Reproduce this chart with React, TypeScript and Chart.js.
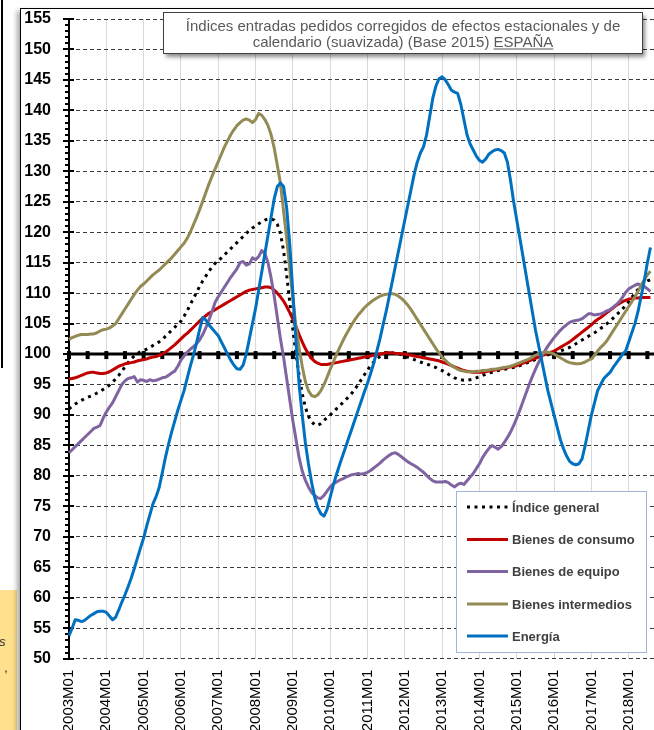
import React, { useEffect, useRef } from "react";
import { Chart, registerables } from "chart.js";

Chart.register(...registerables);

const FONT = "'Liberation Sans', Arial, Helvetica, sans-serif";

const YEARS = [2003, 2004, 2005, 2006, 2007, 2008, 2009, 2010, 2011, 2012, 2013, 2014, 2015, 2016, 2017, 2018];
const MONTHS = ["01", "02", "03", "04", "05", "06", "07", "08", "09", "10", "11", "12"];
const categories: string[] = YEARS.flatMap((y) => MONTHS.map((m) => `${y}M${m}`));

const TITLE_LINE1 = "Índices entradas pedidos corregidos de efectos estacionales y de";
const TITLE_LINE2A = "calendario (suavizada) (Base 2015) ";
const TITLE_LINE2B = "ESPAÑA";

const seriesNames = ["Índice general", "Bienes de consumo", "Bienes de equipo", "Bienes intermedios", "Energía"];
const seriesColors = ["#000000", "#C00000", "#8064A2", "#948A54", "#0070C0"];

const indiceGeneral = [
  91, 91.4, 91.8, 92.1, 92.4, 92.7, 92.9, 93.1, 93.3, 93.6, 93.9, 94.2,
  94.5, 94.9, 95.4, 95.9, 96.5, 97.2, 97.9, 98.6, 99.2, 99.7, 100.1, 100.4,
  100.6, 100.8, 101.1, 101.4, 101.7, 102, 102.4, 102.9, 103.4, 103.9, 104.4, 104.9,
  105.4, 106.2, 107.1, 108.1, 109.1, 110.1, 111.1, 112, 112.8, 113.6, 114.3, 114.9,
  115.3, 115.8, 116.3, 116.8, 117.3, 117.8, 118.3, 118.8, 119.3, 119.8, 120.3, 120.7,
  121, 121.4, 121.7, 122, 122.2, 122.2, 122, 121.3, 119.8, 117, 113, 108.5,
  104, 100, 96.5, 93.5, 91.3, 89.8, 88.9, 88.4, 88.3, 88.6, 89.1, 89.6,
  90, 90.5, 91, 91.5, 92, 92.5, 93, 93.6, 94.3, 95, 95.8, 96.6,
  97.4, 98.1, 98.7, 99.2, 99.6, 99.9, 100.1, 100.2, 100.2, 100.1, 100, 99.9,
  99.7, 99.5, 99.3, 99.1, 98.9, 98.7, 98.5, 98.4, 98.2, 98, 97.8, 97.5,
  97.3, 97, 96.7, 96.4, 96.1, 95.9, 95.8, 95.7, 95.7, 95.8, 95.9, 96.1,
  96.3, 96.5, 96.7, 96.9, 97, 97.2, 97.3, 97.4, 97.5, 97.6, 97.7, 97.8,
  97.9, 98.1, 98.3, 98.5, 98.7, 98.9, 99.1, 99.3, 99.5, 99.7, 99.9, 100,
  100.1, 100.3, 100.5, 100.7, 100.9, 101.1, 101.4, 101.7, 102, 102.3, 102.6, 102.9,
  103.2, 103.5, 103.8, 104.2, 104.6, 105, 105.4, 105.9, 106.4, 106.9, 107.4, 108,
  108.6, 109.3, 110, 110.6, 111.2, 111.6, 112, 112.2,
];

const bienesConsumo = [
  95.9, 96, 96.1, 96.3, 96.5, 96.7, 96.9, 97, 97, 96.9, 96.8, 96.8,
  96.9, 97.1, 97.4, 97.7, 98, 98.2, 98.4, 98.5, 98.6, 98.7, 98.9, 99,
  99.1, 99.2, 99.4, 99.5, 99.6, 99.8, 100, 100.3, 100.7, 101.1, 101.5, 102,
  102.5, 103, 103.4, 103.9, 104.4, 104.9, 105.4, 105.9, 106.3, 106.7, 107, 107.3,
  107.6, 107.9, 108.2, 108.5, 108.8, 109.1, 109.4, 109.7, 110, 110.3, 110.5, 110.6,
  110.7, 110.8, 110.9, 111, 111, 110.9, 110.5, 110, 109.4, 108.7, 107.8, 106.8,
  105.7, 104.5, 103.2, 102, 100.9, 100, 99.3, 98.8, 98.5, 98.3, 98.3, 98.3,
  98.4, 98.5, 98.6, 98.7, 98.8, 98.9, 99, 99.1, 99.2, 99.3, 99.4, 99.5,
  99.6, 99.7, 99.8, 99.9, 100, 100.1, 100.2, 100.2, 100.2, 100.1, 100.1, 100,
  100, 99.9, 99.8, 99.7, 99.6, 99.5, 99.4, 99.3, 99.2, 99.1, 99, 98.9,
  98.7, 98.5, 98.3, 98.1, 97.9, 97.7, 97.5, 97.3, 97.2, 97.1, 97, 97,
  97, 97, 97.1, 97.2, 97.3, 97.4, 97.5, 97.6, 97.7, 97.8, 97.9, 98,
  98.1, 98.3, 98.5, 98.7, 98.9, 99.1, 99.3, 99.5, 99.7, 99.9, 100.1, 100.3,
  100.5, 100.8, 101.1, 101.4, 101.7, 102, 102.4, 102.8, 103.2, 103.6, 104, 104.4,
  104.8, 105.3, 105.7, 106, 106.4, 106.8, 107.2, 107.6, 108, 108.3, 108.6, 108.8,
  109, 109.1, 109.2, 109.2, 109.3, 109.3, 109.3, 109.3,
];

const bienesEquipo = [
  83.8, 84.3, 84.8, 85.3, 85.8, 86.3, 86.8, 87.3, 87.8, 88, 88.3, 89.5,
  90.5, 91.3, 92, 93, 94, 95, 95.6, 96, 96.1, 96.3, 95.4, 95.8,
  95.7, 95.5, 95.8, 95.6, 95.7, 95.9, 96.1, 96.2, 96.5, 96.9, 97.2, 98,
  99, 99.7, 100.3, 100.8, 101.2, 101.7, 102.3, 103.2, 104.3, 105.6, 107, 108.5,
  109.4, 110.2, 111, 111.8, 112.6, 113.3, 114, 115, 115.2, 114.6, 114.8, 115.8,
  115.5, 116, 117, 116.5, 115, 112.5, 109.5, 106, 102.5, 99.5, 96, 92.5,
  89, 86, 83, 80.8, 79.3, 78.2, 77.3, 76.8, 76.4, 76.3, 76.8, 77.5,
  78.2, 78.7, 79, 79.3, 79.5, 79.8, 80, 80.2, 80.3, 80.4, 80.3, 80.4,
  80.6, 80.9, 81.3, 81.7, 82.1, 82.6, 83, 83.4, 83.7, 83.8, 83.5, 83.1,
  82.7, 82.3, 82, 81.7, 81.4, 81, 80.6, 80.1, 79.6, 79.2, 79, 79,
  79, 79.1, 78.9, 78.5, 78.2, 78.6, 78.8, 78.6, 79.2, 79.8, 80.4, 81.2,
  82, 83, 83.8, 84.5, 85, 84.7, 84.4, 84.8, 85.5, 86.3, 87.2, 88.3,
  89.5, 90.8, 92.2, 93.6, 95, 96.3, 97.5, 98.6, 99.6, 100.5, 101.3, 102,
  102.7, 103.3, 103.9, 104.4, 104.8, 105.2, 105.4, 105.5, 105.6, 105.8, 106.2, 106.6,
  106.6, 106.4, 106.5, 106.6, 106.8, 107.1, 107.3, 107.7, 108.1, 108.6, 109.3, 110.1,
  110.7, 111, 111.3, 111.5, 111.3, 111.1, 110.7, 110.3,
];

const bienesIntermedios = [
  102.4, 102.7, 102.9, 103.1, 103.2, 103.2, 103.2, 103.3, 103.3, 103.5, 103.8, 104,
  104.1, 104.3, 104.6, 105, 105.8, 106.6, 107.4, 108.2, 109, 109.8, 110.5, 111.1,
  111.5, 112, 112.5, 113, 113.4, 113.8, 114.3, 114.8, 115.3, 115.8, 116.4, 117,
  117.6, 118.2, 119, 120, 121.2, 122.4, 123.7, 125.1, 126.5, 127.9, 129.2, 130.4,
  131.6, 132.8, 134, 135, 136, 136.8, 137.5, 138, 138.4, 138.6, 138.4, 138,
  138.5, 139.5, 139.2, 138.5, 137.5, 136, 133.8, 131, 128, 123.5, 119, 114,
  109, 104.5, 101, 98, 95.5, 94, 93.2, 93, 93.3, 94, 95, 96.2,
  97.5, 98.7, 99.9, 101, 102.1, 103.1, 104, 104.9, 105.7, 106.4, 107, 107.6,
  108.1, 108.5, 108.9, 109.2, 109.5, 109.7, 109.8, 109.9, 109.9, 109.8, 109.5, 109.1,
  108.6, 108, 107.3, 106.5, 105.7, 104.9, 104.1, 103.3, 102.5, 101.7, 100.9, 100.2,
  99.5, 99, 98.5, 98.1, 97.8, 97.5, 97.3, 97.2, 97.1, 97.1, 97.1, 97.2,
  97.2, 97.3, 97.3, 97.4, 97.5, 97.5, 97.6, 97.7, 97.8, 97.9, 98, 98.2,
  98.4, 98.6, 98.8, 99, 99.2, 99.5, 99.8, 100, 100.2, 100.3, 100.3, 100.2,
  100, 99.7, 99.4, 99.1, 98.8, 98.6, 98.5, 98.4, 98.4, 98.5, 98.7, 99,
  99.2, 99.8, 100.5, 101.1, 101.6, 102.2, 103, 103.8, 104.6, 105.4, 106.2, 107,
  107.8, 108.6, 109.4, 110.3, 111.3, 112.2, 113, 113.6,
];

const energia = [
  53.8, 55, 56.4, 56.3, 56.1, 56.3, 56.7, 57.1, 57.4, 57.7, 57.8, 57.8,
  57.6, 57, 56.4, 56.8, 58, 59.3, 60.5, 61.8, 63.2, 64.8, 66.5, 68.2,
  69.8, 71.8, 73.6, 75.4, 76.6, 78.1, 80.5, 83, 85.2, 87.2, 89, 90.8,
  92.4, 94, 96, 98, 99.8, 101.8, 104, 106, 105.6, 104.8, 104.2, 103.6,
  103, 102, 101, 100, 99, 98.2, 97.6, 97.5, 98.2, 100, 102.5, 105,
  107.5, 110.5, 113.5, 116.5, 119.5, 122.5, 125.5, 127.5, 128.1, 127.5, 124, 118,
  110, 102, 95, 90, 85.5, 82, 79, 76.5, 74.8, 73.8, 73.4, 74.5,
  76.5, 78.5, 80.2, 81.8, 83.3, 84.8, 86.3, 87.8, 89.3, 90.8, 92.3, 93.8,
  95.2, 96.8, 98.5, 100.5, 102.5, 104.8, 107, 109.5, 112, 114.5, 117, 119.5,
  122, 124.5, 127, 129.5, 131.5, 133, 134, 136, 139, 142, 144, 145.2,
  145.5, 145, 144.2, 143.3, 143, 142.8, 141, 138.5, 136, 134.5, 133.5, 132.5,
  131.8, 131.5, 132, 132.8, 133.2, 133.5, 133.6, 133.4, 133, 131.5, 128.5, 125,
  122, 119, 116, 113, 110, 107, 104, 101.5, 99, 96.5, 94, 92,
  90, 88, 86, 84.5, 83.3, 82.4, 82, 81.8, 82, 82.8, 85, 87.5,
  90, 92, 94, 95, 96, 96.5, 97, 97.8, 98.5, 99.2, 100, 100.5,
  102, 103.5, 105, 107, 109.5, 112, 115, 117.5,
];

const seriesData = [indiceGeneral, bienesConsumo, bienesEquipo, bienesIntermedios, energia];

const decorPlugin = {
  id: "decor",
  beforeDatasetsDraw(chart: any) {
    const { ctx, chartArea, scales } = chart;
    const ys = scales.y;
    const xs = scales.x;
    const left = chartArea.left;
    ctx.save();
    ctx.strokeStyle = "#000";
    ctx.lineWidth = 2;
    ctx.beginPath();
    ctx.moveTo(left, chartArea.top);
    ctx.lineTo(left, chartArea.bottom);
    ctx.stroke();
    for (let v = ys.min; v <= ys.max; v++) {
      const py = Math.round(ys.getPixelForValue(v));
      ctx.beginPath();
      if (v % 5 === 0) {
        ctx.moveTo(left - 6, py);
        ctx.lineTo(left + 5, py);
      } else {
        ctx.moveTo(left - 4, py);
        ctx.lineTo(left, py);
      }
      ctx.stroke();
    }
    const p100 = ys.getPixelForValue(100);
    ctx.lineWidth = 3;
    ctx.beginPath();
    ctx.moveTo(left, p100);
    ctx.lineTo(chartArea.right, p100);
    ctx.stroke();
    ctx.fillStyle = "#000";
    for (let i = 0; i < categories.length; i += 6) {
      const px = xs.getPixelForValue(i);
      ctx.fillRect(px - 2, p100 - 3, 4, 8);
    }
    ctx.restore();
  },
  afterDraw(chart: any) {
    const { ctx } = chart;
    ctx.save();
    ctx.shadowColor = "rgba(0,0,0,0.45)";
    ctx.shadowBlur = 4;
    ctx.shadowOffsetX = 2;
    ctx.shadowOffsetY = 3;
    ctx.fillStyle = "#fff";
    ctx.fillRect(163.5, 12.5, 479, 41);
    ctx.restore();
    ctx.save();
    ctx.strokeStyle = "#404040";
    ctx.lineWidth = 1;
    ctx.strokeRect(163.5, 12.5, 479, 41);
    ctx.fillStyle = "#595959";
    ctx.font = `15px ${FONT}`;
    ctx.textBaseline = "alphabetic";
    ctx.textAlign = "center";
    const cx = 403;
    ctx.fillText(TITLE_LINE1, cx, 31);
    const w1 = ctx.measureText(TITLE_LINE2A).width;
    const w2 = ctx.measureText(TITLE_LINE2B).width;
    const sx = cx - (w1 + w2) / 2;
    ctx.textAlign = "left";
    ctx.fillText(TITLE_LINE2A, sx, 47);
    ctx.fillText(TITLE_LINE2B, sx + w1, 47);
    ctx.fillRect(sx + w1, 48.5, w2, 1);
    ctx.restore();

    ctx.save();
    ctx.fillStyle = "#fff";
    ctx.fillRect(456.5, 491.5, 190, 161);
    ctx.strokeStyle = "#9fb4d8";
    ctx.lineWidth = 1;
    ctx.strokeRect(456.5, 491.5, 190, 161);
    const rows = [507, 539.5, 571.5, 604, 636];
    ctx.font = `bold 13px ${FONT}`;
    ctx.textBaseline = "middle";
    ctx.textAlign = "left";
    chart.data.datasets.forEach((ds: any, i: number) => {
      const yy = rows[i];
      ctx.save();
      ctx.strokeStyle = ds.borderColor;
      ctx.lineWidth = 3;
      ctx.setLineDash(ds.borderDash || []);
      ctx.beginPath();
      ctx.moveTo(467, yy);
      ctx.lineTo(508, yy);
      ctx.stroke();
      ctx.restore();
      ctx.fillStyle = "#404040";
      ctx.fillText(ds.label, 512, yy + 1);
    });
    ctx.restore();
  },
};

export default function App() {
  const canvasRef = useRef<HTMLCanvasElement | null>(null);

  useEffect(() => {
    const canvas = canvasRef.current;
    if (!canvas) return;
    const datasets = seriesData.map((d, i) => ({
      label: seriesNames[i],
      data: d,
      borderColor: seriesColors[i],
      backgroundColor: seriesColors[i],
      borderWidth: 3,
      borderDash: i === 0 ? [3, 4.5] : [],
      borderJoinStyle: "round" as const,
      pointRadius: 0,
      tension: 0,
      fill: false,
      order: 4 - i,
    }));
    const chart = new Chart(canvas, {
      type: "line",
      data: { labels: categories, datasets },
      options: {
        responsive: false,
        animation: false,
        layout: { padding: { left: 0, top: 19, right: 37.1, bottom: 0 } },
        plugins: {
          legend: { display: false },
          title: { display: false },
          tooltip: { enabled: false },
        },
        scales: {
          x: {
            type: "category",
            offset: false,
            grid: { color: "#d9d9d9", lineWidth: 1, drawTicks: false },
            border: { display: false },
            ticks: {
              autoSkip: false,
              maxRotation: 90,
              minRotation: 90,
              padding: 11,
              color: "#000",
              font: { family: FONT, size: 15 },
              callback: (_v: any, i: number) => (categories[i].endsWith("M01") ? categories[i] : null),
            },
            afterFit: (s: any) => {
              s.height = 141.3;
              s.paddingLeft = 0;
              s.paddingRight = 0;
            },
          },
          y: {
            min: 50,
            max: 155,
            ticks: {
              stepSize: 5,
              padding: 18,
              color: "#000",
              font: { family: FONT, size: 16, weight: "bold" },
            },
            grid: { color: "#3a3a3a", lineWidth: 1, drawTicks: false },
            border: { display: false, dash: [4, 3] },
            afterFit: (s: any) => {
              s.width = 69;
              s.paddingTop = 0;
              s.paddingBottom = 0;
            },
          },
        },
      },
      plugins: [decorPlugin],
    } as any);
    return () => chart.destroy();
  }, []);

  return (
    <div
      style={{
        position: "fixed",
        left: 0,
        top: 0,
        width: 654,
        height: 730,
        overflow: "hidden",
        background: "#fff",
      }}
    >
      <div
        style={{
          position: "absolute",
          left: 0,
          top: 590,
          width: 17,
          height: 140,
          background: "#FFE08C",
          fontFamily: FONT,
          fontSize: 13,
          color: "#333",
        }}
      >
        <span style={{ position: "absolute", left: -1, top: 44, fontStyle: "italic" }}>s</span>
        <span style={{ position: "absolute", left: 4, top: 70 }}>,</span>
      </div>
      <div
        style={{
          position: "absolute",
          left: 20,
          top: 8,
          width: 700,
          height: 800,
          borderLeft: "1px solid #000",
          borderTop: "1px solid #000",
          background: "#fff",
          boxShadow: "-3px 3px 5px rgba(0,0,0,0.35)",
        }}
      />
      <div style={{ position: "absolute", left: 1, top: 0, width: 2, height: 368, background: "#000" }} />
      <canvas
        ref={canvasRef}
        width={700}
        height={800}
        style={{ position: "absolute", left: 0, top: 0, width: 700, height: 800 }}
      />
    </div>
  );
}
